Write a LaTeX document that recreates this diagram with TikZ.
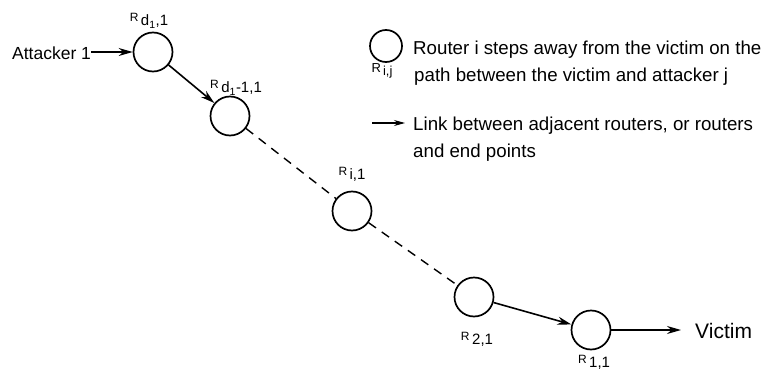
\documentclass[tikz,border=0pt]{standalone}
\usepackage{fontspec}
\setmainfont{Liberation Sans}
\usetikzlibrary{arrows.meta,positioning}

% router label: small R followed by a lowered index
\newcommand{\rname}[1]{{\fontsize{12}{12}\selectfont R}\,\raisebox{-4pt}{#1}}

\begin{document}
\begin{tikzpicture}[x=1pt,y=-1pt,>={Stealth[length=14pt,width=8pt]}]
  \tikzset{router/.style={circle,draw,line width=1.7pt,minimum size=39pt,inner sep=0pt},
    lab/.style={font=\fontsize{15}{15}\selectfont,inner sep=0pt},
    txt/.style={font=\fontsize{18.7}{22}\selectfont,inner sep=0pt,anchor=base west},
    link/.style={->,line width=1.6pt},
    hop/.style={line width=1.4pt,dash pattern=on 9pt off 7pt}}
  \useasboundingbox (0,0) rectangle (767,377);

  % path from the attacker to the victim
  \node[router] (Rd)  at (153,52)  {};
  \node[router] (Rd1) at (230,116) {};
  \node[router] (Ri)  at (352,211) {};
  \node[router] (R2)  at (474,297) {};
  \node[router] (R1)  at (591,330) {};

  \node[lab] (lRd)  at (149,21)  {\rname{d\textsubscript{1},1}};
  \node[lab] (lRd1) at (236,88)  {\rname{d\textsubscript{1}-1,1}};
  \node[lab] (lRi)  at (352,174) {\rname{i,1}};
  \node[lab] (lR2)  at (477,339) {\rname{2,1}};
  \node[lab] (lR1)  at (594,362) {\rname{1,1}};

  \node[txt,font=\fontsize{17.5}{17.5}\selectfont] (att) at (12,60) {Attacker 1};
  \node[txt,font=\fontsize{21}{21}\selectfont] (vic) at (695,338) {Victim};
  \coordinate (vend) at (681,330);

  \draw[link] (att.east |- Rd) -- (Rd);
  \draw[link] (Rd) -- (Rd1);
  \draw[hop]  (Rd1) -- (Ri);
  \draw[hop]  (Ri) -- (R2);
  \draw[link] (R2) -- (R1);
  \draw[link] (R1) -- (vend);

  % legend
  \node[router,minimum size=32pt] (key) at (386,46) {};
  \node[lab,font=\fontsize{13}{13}\selectfont] (lkey) at (382,71) {R\,\raisebox{-3pt}{i,j}};
  \node[txt] (t1) at (413,55)  {Router i steps away from the victim on the};
  \node[txt] (t2) at (414,82)  {path between the victim and attacker j};
  \coordinate (ka) at (372,123);
  \coordinate (kb) at (405,123);
  \draw[link,>={Stealth[length=11pt,width=6pt]},line width=1.1pt] (ka) -- (kb);
  \node[txt] (t3) at (413,130) {Link between adjacent routers, or routers};
  \node[txt] (t4) at (413,157) {and end points};
\end{tikzpicture}
\end{document}
